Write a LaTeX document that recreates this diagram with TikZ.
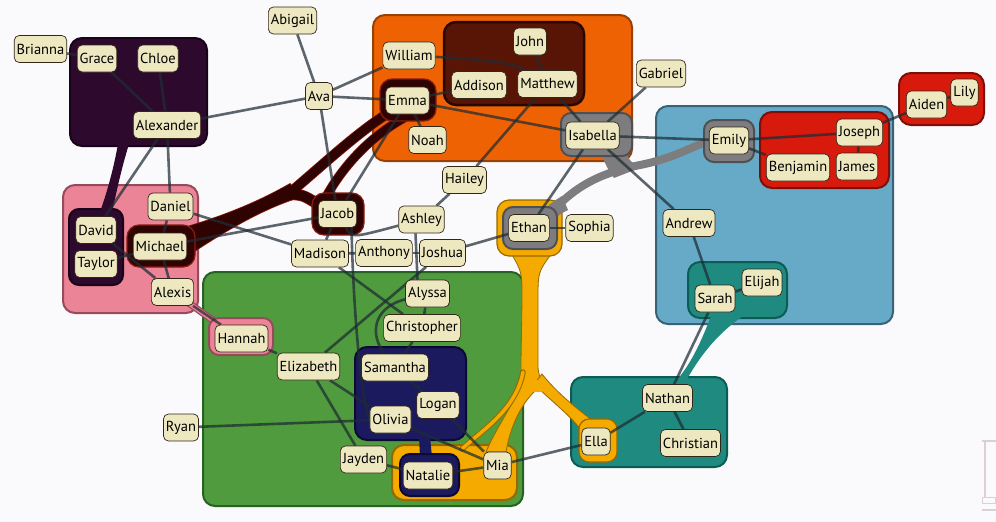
\documentclass[tikz,border=0pt]{standalone}
\usepackage{fontspec}
\setmainfont{PT Sans}
\definecolor{bgcol}{RGB}{250,250,252}
\definecolor{nodefill}{RGB}{238,232,193}
\definecolor{nodeline}{RGB}{50,38,25}
\definecolor{edgecol}{RGB}{30,44,52}
\definecolor{purplefill}{RGB}{45,10,45}
\definecolor{purpleline}{RGB}{24,3,24}
\definecolor{pinkfill}{RGB}{236,132,152}
\definecolor{pinkline}{RGB}{150,75,90}
\definecolor{maroonfill}{RGB}{48,3,3}
\definecolor{maroonline}{RGB}{140,28,16}
\definecolor{orangefill}{RGB}{239,98,3}
\definecolor{orangeline}{RGB}{150,65,5}
\definecolor{brownfill}{RGB}{88,20,4}
\definecolor{brownline}{RGB}{40,8,0}
\definecolor{greyfill}{RGB}{125,125,128}
\definecolor{greyline}{RGB}{80,80,84}
\definecolor{bluefill}{RGB}{102,170,200}
\definecolor{blueline}{RGB}{58,98,118}
\definecolor{redfill}{RGB}{216,26,12}
\definecolor{redline}{RGB}{125,14,8}
\definecolor{tealfill}{RGB}{30,138,128}
\definecolor{tealline}{RGB}{12,92,85}
\definecolor{yellowfill}{RGB}{245,170,0}
\definecolor{yellowline}{RGB}{150,105,0}
\definecolor{greenfill}{RGB}{80,155,62}
\definecolor{greenline}{RGB}{38,98,33}
\definecolor{navyfill}{RGB}{28,26,94}
\definecolor{navyline}{RGB}{12,10,50}
\definecolor{slidercol}{RGB}{222,208,208}
\pgfdeclarelayer{canvas}
\pgfdeclarelayer{shapes}
\pgfdeclarelayer{links}
\pgfsetlayers{canvas,shapes,links,main}
\begin{document}
\begin{tikzpicture}[x=1pt,y=-1pt,
  person/.style={draw=nodeline, line width=0.7pt, fill=nodefill,
    rounded corners=5pt, minimum height=27pt, inner xsep=2.5pt,
    inner ysep=0pt, font=\fontsize{14.5}{16}\selectfont, text=black},
  link/.style={draw=edgecol, line width=2.6pt, draw opacity=0.72},
  grp/.style={rounded corners=12pt, line width=2pt},
  ring/.style={rounded corners=10pt, line width=1.2pt},
  band/.style={line width=#1, line cap=round},
]
% canvas
\begin{pgfonlayer}{canvas}
\fill[bgcol] (0,0) rectangle (996,522);
\end{pgfonlayer}
\useasboundingbox (0,0) rectangle (996,522);

% ---------- people ----------
\node[person] (Brianna) at (40.5,49) {Brianna};
\node[person] (Grace) at (97,58.5) {Grace};
\node[person] (Chloe) at (158,58.5) {Chloe};
\node[person] (Alexander) at (167,125) {Alexander};
\node[person] (Abigail) at (292.5,20.5) {Abigail};
\node[person] (Ava) at (319,96) {Ava};
\node[person] (William) at (409,55.5) {William};
\node[person] (John) at (530,41.5) {John};
\node[person] (Addison) at (479,85) {Addison};
\node[person] (Matthew) at (547.5,84) {Matthew};
\node[person] (Emma) at (407.5,100.5) {Emma};
\node[person] (Noah) at (427.5,140) {Noah};
\node[person] (Gabriel) at (661,73.5) {Gabriel};
\node[person] (Isabella) at (592.5,135.5) {Isabella};
\node[person] (Emily) at (729,140.5) {Emily};
\node[person] (Joseph) at (859.5,132.5) {Joseph};
\node[person] (Benjamin) at (798,167.5) {Benjamin};
\node[person] (James) at (857,166.5) {James};
\node[person] (Aiden) at (926.5,104.5) {Aiden};
\node[person] (Lily) at (964.5,92.5) {Lily};
\node[person] (Andrew) at (689,223) {Andrew};
\node[person] (Sarah) at (715,298.5) {Sarah};
\node[person] (Elijah) at (762,282.5) {Elijah};
\node[person] (Daniel) at (170.5,206.5) {Daniel};
\node[person] (David) at (96,230) {David};
\node[person] (Taylor) at (96,264) {Taylor};
\node[person] (Michael) at (160,246.5) {Michael};
\node[person] (Alexis) at (172.5,292) {Alexis};
\node[person] (Hannah) at (241.5,338.5) {Hannah};
\node[person] (Jacob) at (337.5,214) {Jacob};
\node[person] (Madison) at (320,253.5) {Madison};
\node[person] (Ashley) at (421.5,219.5) {Ashley};
\node[person] (Anthony) at (384,253) {Anthony};
\node[person] (Joshua) at (442.5,253) {Joshua};
\node[person] (Alyssa) at (427.5,293.5) {Alyssa};
\node[person] (Hailey) at (464.5,180) {Hailey};
\node[person] (Ethan) at (529,228) {Ethan};
\node[person] (Sophia) at (589.5,228) {Sophia};
\node[person] (Christopher) at (422,328) {Christopher};
\node[person] (Samantha) at (395,367.5) {Samantha};
\node[person] (Elizabeth) at (308.5,366.5) {Elizabeth};
\node[person] (Logan) at (438,405) {Logan};
\node[person] (Olivia) at (390.5,419.5) {Olivia};
\node[person] (Ryan) at (181,427.5) {Ryan};
\node[person] (Jayden) at (363.5,459.5) {Jayden};
\node[person] (Natalie) at (428,475.5) {Natalie};
\node[person] (Mia) at (497.5,465.5) {Mia};
\node[person] (Ella) at (596,441.5) {Ella};
\node[person] (Nathan) at (667.5,398) {Nathan};
\node[person] (Christian) at (690.5,443) {Christian};

% ---------- groups ----------
\begin{pgfonlayer}{shapes}
% outer groups
\draw[grp, fill=orangefill, draw=orangeline] (373,15) rectangle (632,161);
\draw[grp, fill=bluefill, draw=blueline] (656,106) rectangle (893,324);
\draw[grp, fill=greenfill, draw=greenline] (203,272) rectangle (523,506);
\draw[grp, fill=pinkfill, draw=pinkline] (63,185) rectangle (198,313);
\draw[grp, fill=purplefill, draw=purpleline] (70,38) rectangle (207,146);
% nested groups
\draw[grp, fill=brownfill, draw=brownline, line width=2.5pt] (444,22) rectangle (584,105);
\draw[grp, fill=redfill, draw=redline] (760,112) rectangle (889,188);
\draw[grp, fill=redfill, draw=redline] (899,73) rectangle (984,125);
\draw[grp, fill=tealfill, draw=tealline] (688,262) rectangle (787,318);
\draw[grp, fill=tealfill, draw=tealline] (571,377) rectangle (727,467);
\draw[grp, fill=purplefill, draw=purpleline, rounded corners=10pt] (69,209) rectangle (123,285);
\draw[grp, fill=navyfill, draw=navyline] (355,347) rectangle (466,440);
\draw[grp, fill=yellowfill, draw=yellowline] (392,445) rectangle (517,500);
% stems between related groups
\fill[purplefill] (118,144) .. controls (113,172) and (106,195) .. (100,212)
  -- (112,212) .. controls (117,190) and (121,170) .. (129,144) -- cycle;
\draw[pinkline, band=7pt] (183,299) -- (224,328);
\draw[pinkfill, band=4.5pt] (183,299) -- (224,328);
\draw[ring, fill=pinkfill, draw=pinkline, line width=2pt] (209,318) rectangle (273,355);
\fill[tealfill] (711,316) .. controls (700,345) and (690,365) .. (676,381)
  -- (686,381) .. controls (702,352) and (720,332) .. (743,316) -- cycle;
% yellow stem from Ethan down to Mia, Natalie and Ella
\begin{scope}[fill=yellowfill, draw=yellowline, line width=0.8pt]
\filldraw (511,253) .. controls (522,272) .. (522,300) -- (521,362)
  .. controls (521,374) .. (516,386) -- (546,386)
  .. controls (538,374) .. (538,362) -- (538,300)
  .. controls (538,272) .. (552,253) -- cycle;
\filldraw (524,380) .. controls (510,410) and (495,430) .. (486,452)
  -- (506,452) .. controls (510,428) and (520,405) .. (536,390) -- cycle;
\filldraw (534,384) .. controls (550,400) and (570,415) .. (582,431)
  -- (592,420) .. controls (576,408) and (556,392) .. (542,374) -- cycle;
\end{scope}
\fill[yellowfill] (518,380) rectangle (542,392);
\draw[yellowline, band=5.5pt] (523,372) .. controls (516,410) and (482,430) .. (462,449);
\draw[yellowfill, band=3.5pt] (523,372) .. controls (516,410) and (482,430) .. (462,449);
\draw[ring, fill=yellowfill, draw=yellowline, rounded corners=12pt] (497,200) rectangle (562,256);
\draw[ring, fill=yellowfill, draw=yellowline] (579,419) rectangle (617,462);
% navy ring round Natalie
\fill[navyfill] (419,437) -- (420,457) -- (432,457) -- (430,437) -- cycle;
\draw[ring, fill=navyfill, draw=navyline, line width=2pt] (400,454) rectangle (459,496);
% grey bundle between Isabella, Emily and Ethan
\begin{scope}[greyfill]
\draw[band=8pt] (550,214) .. controls (575,186) and (600,173) .. (640,165)
  .. controls (675,158) and (690,147) .. (712,140);
\fill (540,216) .. controls (548,205) .. (562,196) -- (568,210) .. controls (560,214) .. (552,222) -- cycle;
\fill (600,150) .. controls (606,166) .. (614,178) -- (642,167) .. controls (630,162) .. (625,150) -- cycle;
\end{scope}
\draw[ring, fill=greyfill, draw=greyline, line width=2pt] (561,113) rectangle (632,156);
\draw[ring, fill=greyfill, draw=greyline, line width=2pt] (704,120) rectangle (754,162);
\draw[ring, fill=greyfill, draw=greyline, line width=2pt] (503,207) rectangle (557,249);
% maroon bundle between Michael, Jacob and Emma: rim pass, then body pass
\begin{scope}[maroonline]
\draw[line width=1.6pt, fill] (190,226) .. controls (230,214) and (262,200) .. (290,184)
  -- (300,197) .. controls (270,206) and (235,224) .. (190,254) -- cycle;
\draw[band=10.5pt] (292,191) .. controls (325,163) and (358,132) .. (390,112);
\draw[band=11.5pt] (288,194) .. controls (303,195) .. (316,203);
\draw[band=9.5pt] (326,197) .. controls (342,168) and (368,138) .. (404,118);
\end{scope}
\begin{scope}[maroonfill]
\fill (190,226) .. controls (230,214) and (262,200) .. (290,184)
  -- (300,197) .. controls (270,206) and (235,224) .. (190,254) -- cycle;
\draw[band=9pt] (292,191) .. controls (325,163) and (358,132) .. (390,112);
\draw[band=10pt] (288,194) .. controls (303,195) .. (316,203);
\draw[band=8pt] (326,197) .. controls (342,168) and (368,138) .. (404,118);
\end{scope}
\draw[ring, fill=maroonfill, draw=maroonline, rounded corners=12pt] (127,225) rectangle (195,267);
\draw[ring, fill=maroonfill, draw=maroonline, rounded corners=12pt] (312,193) rectangle (364,235);
\draw[ring, fill=maroonfill, draw=maroonline, rounded corners=12pt] (380,79) rectangle (436,121);
% zoom slider
\draw[slidercol, line width=1.2pt] (982,441) -- (996,441);
\draw[slidercol, line width=1.6pt] (985,441) -- (985,497);
\draw[slidercol, line width=1pt, fill=bgcol] (982,497) rectangle (995,503);
\draw[slidercol, line width=1.2pt] (982,510) -- (996,510);
\end{pgfonlayer}

% ---------- connections ----------
\begin{pgfonlayer}{links}
\draw[link] (Brianna) -- (Grace);
\draw[link] (Grace) -- (Alexander);
\draw[link] (Chloe) -- (Alexander);
\draw[link] (Alexander) -- (Ava);
\draw[link] (Alexander) -- (David);
\draw[link] (Alexander) -- (Daniel);
\draw[link] (Abigail) -- (Ava);
\draw[link] (Ava) -- (William);
\draw[link] (Ava) -- (Emma);
\draw[link] (Ava) -- (Jacob);
\draw[link] (William) .. controls (495,60) and (515,64) .. (Matthew);
\draw[link] (John) -- (Matthew);
\draw[link] (Addison) -- (Emma);
\draw[link] (Matthew) -- (Isabella);
\draw[link] (Matthew) -- (Hailey);
\draw[link] (Emma) -- (Noah);
\draw[link] (Emma) -- (Isabella);
\draw[link] (Emma) -- (Jacob);
\draw[link] (Jacob) -- (Michael);
\draw[link] (Jacob) -- (Madison);
\draw[link] (Jacob) .. controls (352,238) .. (Ashley);
\draw[link] ([xshift=14pt]Jacob.south) .. controls (353,300) and (360,395) .. (Olivia.west);
\draw[link] (Daniel) -- (Madison);
\draw[link] (Daniel) -- (Michael);
\draw[link] (Michael) -- (Taylor);
\draw[link] (Michael) -- (Alexis);
\draw[link] (David) -- (Alexis);
\draw[link] (Alexis) -- (Hannah);
\draw[link] (Madison) -- (Anthony);
\draw[link] (Anthony) -- (Joshua);
\draw[link] (Madison) -- (Christopher);
\draw[link] (Joshua) -- (Elizabeth);
\draw[link] (Joshua) -- (Ethan);
\draw[link] ([xshift=-6pt]Ashley.south) -- ([xshift=-10pt]Alyssa.north);
\draw[link] (Hailey) -- (Ashley);
\draw[link] (Alyssa) -- (Christopher);
\draw[link] (Alyssa) .. controls (372,308) and (370,335) .. (Samantha);
\draw[link] (Christopher) -- (Samantha);
\draw[link] (Hannah) -- (Elizabeth);
\draw[link] (Elizabeth) -- (Olivia);
\draw[link] (Elizabeth) -- (Jayden);
\draw[link] (Ryan) -- (Olivia);
\draw[link] (Samantha) -- (Logan);
\draw[link] (Olivia) -- (Mia);
\draw[link] (Logan) -- (Mia);
\draw[link] (Jayden) -- (Natalie);
\draw[link] (Natalie) -- (Mia);
\draw[link] (Mia) -- (Ella);
\draw[link] (Ella) -- (Nathan);
\draw[link] (Nathan) -- (Christian);
\draw[link] (Sarah) -- (Nathan);
\draw[link] (Andrew) -- (Sarah);
\draw[link] (Sarah) -- (Elijah);
\draw[link] (Isabella) -- (Andrew);
\draw[link] (Isabella) -- (Emily);
\draw[link] (Isabella) -- (Ethan);
\draw[link] (Gabriel) -- (Isabella);
\draw[link] (Ethan) -- (Sophia);
\draw[link] (Emily) -- (Joseph);
\draw[link] (Emily) -- (Benjamin);
\draw[link] (Joseph) -- (James);
\draw[link] (Joseph) -- (Aiden);
\draw[link] (Aiden) -- (Lily);
\end{pgfonlayer}
\end{tikzpicture}
\end{document}
